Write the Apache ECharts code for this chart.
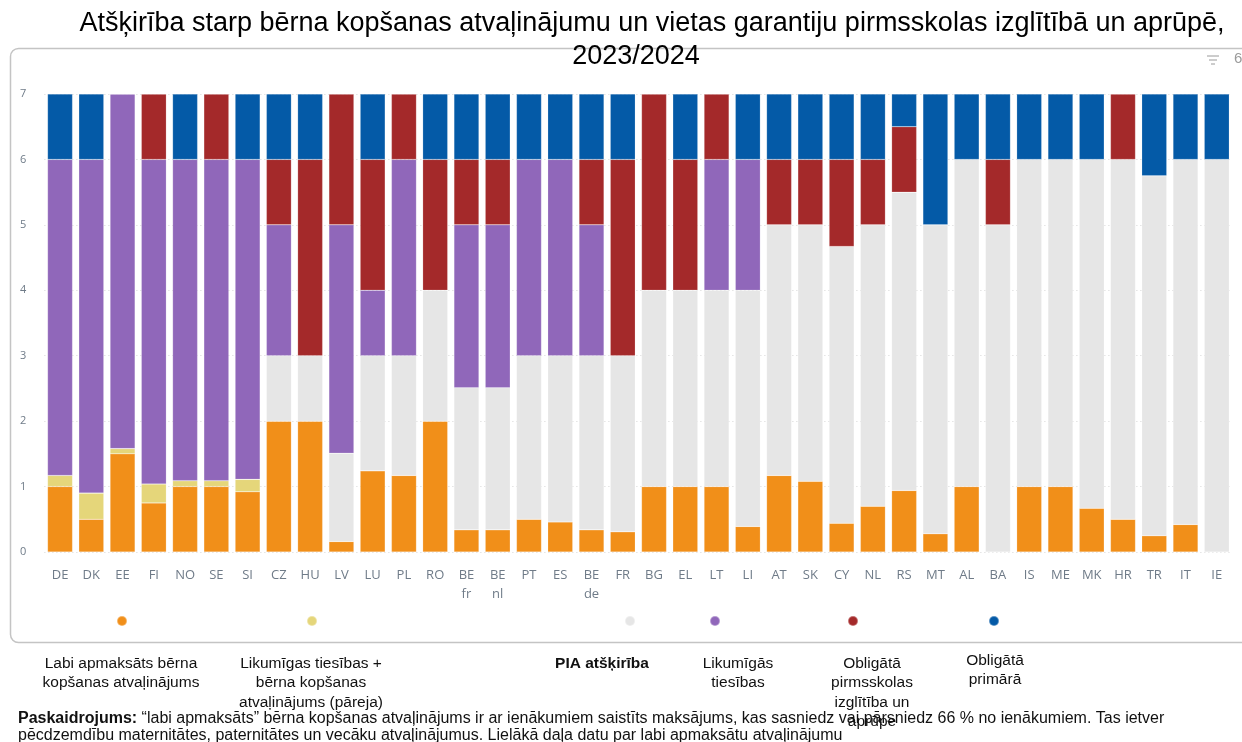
<!DOCTYPE html>
<html>
<head>
<meta charset="utf-8">
<script src="https://cdn.jsdelivr.net/npm/echarts@6/dist/echarts.min.js"></script>
<style>
html,body{margin:0;padding:0;background:#fff;}
#c{width:1242px;height:742px;}
</style>
</head>
<body>
<div id="c"></div>
<script>
const categories = ['DE','DK','EE','FI','NO','SE','SI','CZ','HU','LV','LU','PL','RO','BE\nfr','BE\nnl','PT','ES','BE\nde','FR','BG','EL','LT','LI','AT','SK','CY','NL','RS','MT','AL','BA','IS','ME','MK','HR','TR','IT','IE'];
const seriesNames = ['Labi apmaksāts bērna kopšanas atvaļinājums','Likumīgas tiesības + bērna kopšanas atvaļinājums (pāreja)','PIA atšķirība','Likumīgās tiesības','Obligātā pirmsskolas izglītība un aprūpe','Obligātā primārā'];
const legendLabels = ['Labi apmaksāts bērna\nkopšanas atvaļinājums','Likumīgas tiesības +\nbērna kopšanas\natvaļinājums (pāreja)','PIA atšķirība','Likumīgās\ntiesības','Obligātā\npirmsskolas\nizglītība un\naprūpe','Obligātā\nprimārā'];
const titleLines = ['Atšķirība starp bērna kopšanas atvaļinājumu un vietas garantiju pirmsskolas izglītībā un aprūpē,','2023/2024'];
//                 DE   DK   EE   FI   NO   SE   SI   CZ HU  LV   LU   PL   RO  BEfr BEnl PT   ES   BEde FR   BG EL LT LI   AT   SK   CY   NL   RS   MT   AL BA IS ME MK   HR   TR   IT   IE
const paidLeave = [1.0, 0.5, 1.5, 0.75,1.0, 1.0, 0.92,2, 2, 0.16,1.24,1.17,2, 0.34,0.34,0.5, 0.46,0.34,0.31,1, 1, 1, 0.39,1.17,1.08,0.44,0.7, 0.94,0.28,1, 0, 1, 1, 0.67,0.5, 0.25,0.42,0];
const transition = [0.17,0.4, 0.08,0.29,0.09,0.09,0.19,0, 0, 0,   0,   0,   0, 0,   0,   0,   0,   0,   0,   0, 0, 0, 0,   0,   0,   0,   0,   0,   0,   0, 0, 0, 0, 0,   0,   0,   0,   0];
const gap =        [0,   0,   0,   0,   0,   0,   0,   1, 1, 1.35,1.76,1.83,2, 2.17,2.17,2.5, 2.54,2.66,2.69,3, 3, 3, 3.61,3.83,3.92,4.23,4.3, 4.56,4.72,5, 5, 5, 5, 5.33,5.5, 5.5, 5.58,6];
const legalEnt =   [4.83,5.1, 5.42,4.96,4.91,4.91,4.89,2, 0, 3.49,1,   3,   0, 2.49,2.49,3,   3,   2,   0,   0, 0, 2, 2,   0,   0,   0,   0,   0,   0,   0, 0, 0, 0, 0,   0,   0,   0,   0];
const compulsoryECEC = [0,0,   0,   1,   0,   1,   0,   1, 3, 2,   2,   1,   2, 1,   1,   0,   0,   1,   3,   3, 2, 1, 0,   1,   1,   1.33,1,  1,   0,   0, 1, 0, 0, 0,   1,   0,   0,   0];
const compulsoryPrimary = [1,1,0,   0,   1,   0,   1,   1, 1, 0,   1,   0,   1, 1,   1,   1,   1,   1,   1,   0, 1, 0, 1,   1,   1,   1,   1,   0.5, 2,   1, 1, 1, 1, 1,   0,   1.25,1,   1];
const yTicks = [0,1,2,3,4,5,6,7];

const colors = ['#F18F19','#E5D67A','#E6E6E6','#9067BA','#A4292A','#045AA7'];
const legendDotColors = ['#F18F19','#E5D67A','#E6E6E6','#9067BA','#A4292A','#045AA7'];
const dataSets = [paidLeave, transition, gap, legalEnt, compulsoryECEC, compulsoryPrimary];
const dotX = [121, 311, 629, 714, 852, 993];
const labelX = [121, 311, 602, 738, 872, 995];
const labelY = [654, 654, 654, 654, 654, 651];

const chart = echarts.init(document.getElementById('c'), null, {renderer:'canvas'});

const series = seriesNames.map((n,i)=>({
  name:n, type:'bar', stack:'total', barWidth:25,
  itemStyle:{color:colors[i], borderColor:'rgba(255,255,255,0.35)', borderWidth:0.5},
  emphasis:{disabled:true},
  data:dataSets[i]
}));

const legends = seriesNames.map((n,i)=>({
  data:[{name:n, itemStyle:{color:legendDotColors[i]}}],
  left: dotX[i]-5, top: 615, padding:0,
  icon:'circle', itemWidth:10, itemHeight:10,
  formatter:()=>'', textStyle:{fontSize:1},
  selectedMode:false
}));

const graphics = [
  {type:'rect', z:-10, shape:{x:10.5, y:48.5, width:1260, height:594, r:8}, style:{fill:'none', stroke:'#c4c4c4', lineWidth:1.5}},
  // header icons
  {type:'line', shape:{x1:1207,y1:56,x2:1219,y2:56}, style:{stroke:'#9a9a9a', lineWidth:1}},
  {type:'line', shape:{x1:1209,y1:60,x2:1217,y2:60}, style:{stroke:'#9a9a9a', lineWidth:1}},
  {type:'line', shape:{x1:1211,y1:64,x2:1215,y2:64}, style:{stroke:'#9a9a9a', lineWidth:1}},
  {type:'text', left:1234, top:51, style:{text:'6', fontSize:15, fill:'#9a9a9a', fontFamily:'Liberation Sans'}}
];
legendLabels.forEach((t,i)=>{
  graphics.push({type:'text', x:labelX[i], y:labelY[i], style:{
    text:t, textAlign:'center', fontSize:15.5, lineHeight:19.3,
    fontFamily:'Liberation Sans, Arial', fill:'#111',
    fontWeight: i===2 ? 'bold' : 'normal'
  }});
});
graphics.push({type:'text', x:18, y:710, style:{
  text:'{b|Paskaidrojums:} “labi apmaksāts” bērna kopšanas atvaļinājums ir ar ienākumiem saistīts maksājums, kas sasniedz vai pārsniedz 66 % no ienākumiem. Tas ietver\npēcdzemdību maternitātes, paternitātes un vecāku atvaļinājumus. Lielākā daļa datu par labi apmaksātu atvaļinājumu',
  fontSize:16, lineHeight:17, fontFamily:'Liberation Sans, Arial', fill:'#111',
  rich:{b:{fontWeight:'bold', fontSize:16, fontFamily:'Liberation Sans, Arial', fill:'#111'}}
}});

const titleStyle = {fontSize:27, fontWeight:'normal', color:'#000', fontFamily:'Liberation Sans, Arial', lineHeight:32};

chart.setOption({
  animation:false,
  backgroundColor:'#fff',
  title:[
    {text:titleLines[0], left:652, top:8, textAlign:'center', padding:0, textStyle:titleStyle},
    {text:titleLines[1], left:636, top:41, textAlign:'center', padding:0, textStyle:titleStyle}
  ],
  legend: legends,
  grid:{left:44.4, width:1188, top:94, bottom:190, containLabel:false},
  xAxis:{
    type:'category', data:categories,
    axisLine:{show:false}, axisTick:{show:false},
    axisLabel:{interval:0, color:'#6f7b88', fontSize:13, fontFamily:'Open Sans', margin:14, lineHeight:19}
  },
  yAxis:{
    type:'value', min:0, max:7, interval:1,
    axisLine:{show:false}, axisTick:{show:false},
    axisLabel:{color:'#6f7b88', fontSize:11, fontFamily:'Open Sans', margin:18, formatter:v=>yTicks.includes(v)?String(v):''},
    splitLine:{lineStyle:{color:'#d6d6d6', type:[1,3], width:1}}
  },
  series: series,
  graphic: graphics
});
</script>
</body>
</html>
